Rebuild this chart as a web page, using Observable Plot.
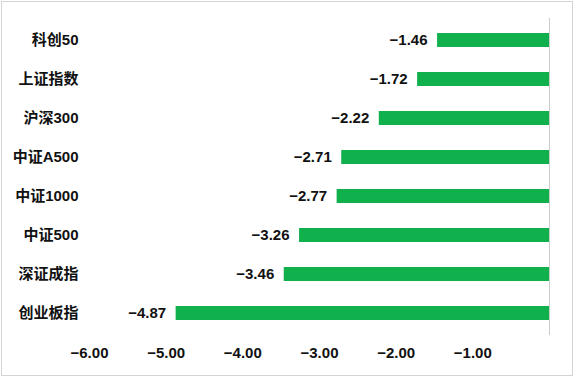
<!DOCTYPE html>
<html>
<head>
<meta charset="utf-8">
<script src="https://cdn.jsdelivr.net/npm/d3@7"></script>
<script src="https://cdn.jsdelivr.net/npm/@observablehq/plot@0.6"></script>
<style>
  html, body { margin: 0; padding: 0; background: #fff; }
  #wrap { position: relative; width: 574px; height: 377px; }
  #wrap::after { content: ""; position: absolute; left: 1px; top: 1px; right: 1px; bottom: 1px; border: 1px solid #d4d4d4; pointer-events: none; }
  svg { display: block; }
</style>
</head>
<body>
<div id="wrap"></div>
<script>
const categories = ["科创50", "上证指数", "沪深300", "中证A500", "中证1000", "中证500", "深证成指", "创业板指"];
const values = [-1.46, -1.72, -2.22, -2.71, -2.77, -3.26, -3.46, -4.87];
const xTicks = [-6, -5, -4, -3, -2, -1];

const data = categories.map((c, i) => ({name: c, value: values[i]}));
const fmt = d3.format(".2f");

const chart = Plot.plot({
  width: 574,
  height: 377,
  marginTop: 18,
  marginBottom: 42,
  marginLeft: 89,
  marginRight: 25,
  style: {fontFamily: "'Liberation Sans', 'Noto Sans CJK SC', Arial, sans-serif", fontSize: "15px", fontWeight: "bold", color: "#111", background: "transparent"},
  x: {domain: [-6, 0], ticks: xTicks, tickFormat: fmt, tickSize: 0, tickPadding: 12, label: null},
  y: {domain: categories, paddingInner: 0.65, paddingOuter: 0.325, tickSize: 0, tickPadding: 11, label: null},
  marks: [
    Plot.ruleX([0], {stroke: "#cccccc"}),
    Plot.barX(data, {x1: 0, x2: "value", y: "name", fill: "#10b04c"}),
    Plot.text(data, {x: "value", y: "name", text: d => fmt(d.value), textAnchor: "end", dx: -10, fill: "#111", fontSize: 15, fontWeight: "bold"}),
    Plot.axisX({ticks: xTicks, tickFormat: fmt, tickSize: 0, tickPadding: 12, fontSize: 15, fontWeight: "bold", label: null}),
    Plot.axisY({tickSize: 0, tickPadding: 11, fontSize: 15, fontWeight: "bold", label: null})
  ]
});
document.getElementById("wrap").appendChild(chart);
</script>
</body>
</html>
